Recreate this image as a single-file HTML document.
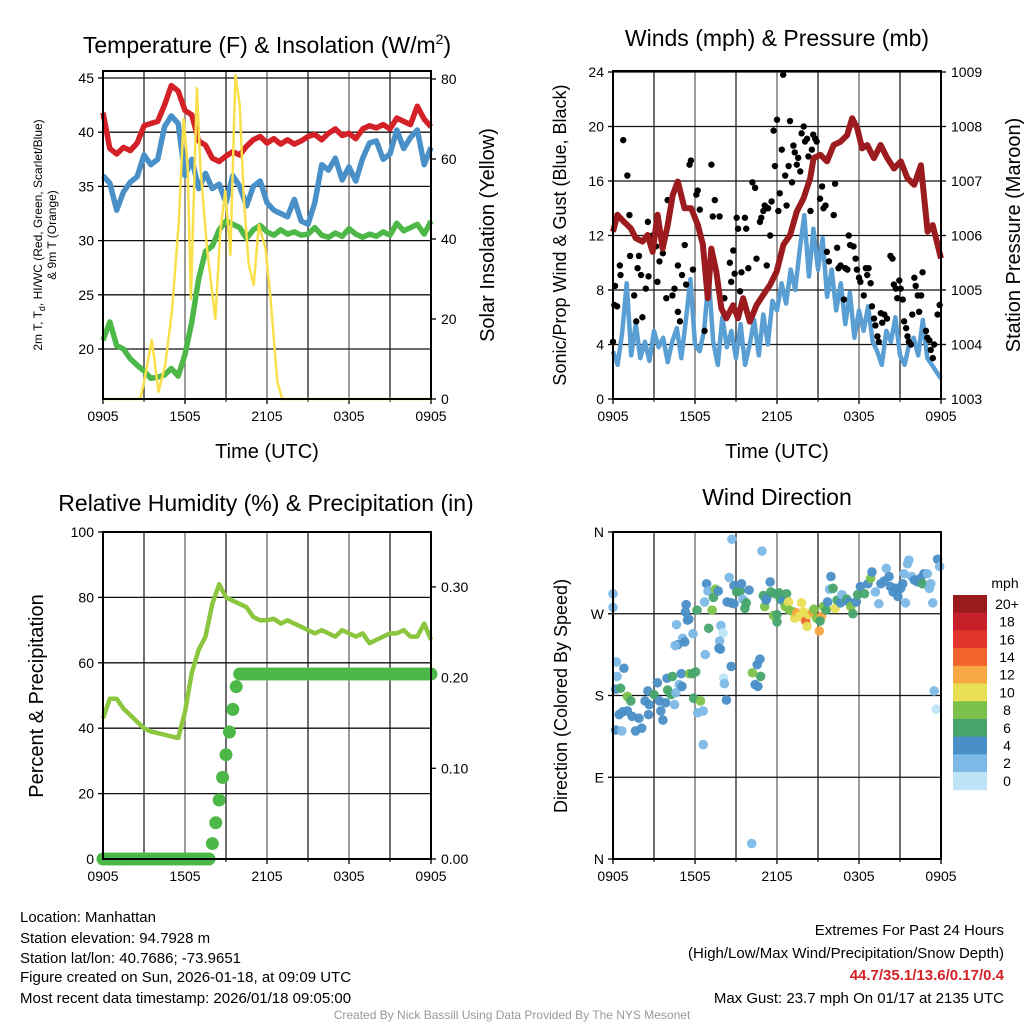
<!DOCTYPE html>
<html><head><meta charset="utf-8"><style>
html,body{margin:0;padding:0;background:#fff;}
svg{display:block;font-family:"Liberation Sans",sans-serif;}
</style></head><body>
<svg id="root" width="1024" height="1024" viewBox="0 0 1024 1024" xmlns="http://www.w3.org/2000/svg">
<rect x="0" y="0" width="1024" height="1024" fill="#fff"/>
<text x="267" y="53" font-size="23" text-anchor="middle">Temperature (F) &amp; Insolation (W/m<tspan font-size="14" dy="-9">2</tspan><tspan dy="9">)</tspan></text>
<text x="777" y="46" font-size="23" text-anchor="middle">Winds (mph) &amp; Pressure (mb)</text>
<text x="266" y="511" font-size="23" text-anchor="middle">Relative Humidity (%) &amp; Precipitation (in)</text>
<text x="777" y="505" font-size="23" text-anchor="middle">Wind Direction</text>

<text transform="translate(42,235) rotate(-90)" font-size="12" text-anchor="middle">2m T, T<tspan font-size="9" dy="3">d</tspan><tspan dy="-3">, HI/WC (Red, Green, Scarlet/Blue)</tspan></text>
<text transform="translate(56,235) rotate(-90)" font-size="12" text-anchor="middle">&amp; 9m T (Orange)</text>
<text transform="translate(494,235) rotate(-90)" font-size="20" text-anchor="middle">Solar Insolation (Yellow)</text>
<text x="267" y="458" font-size="20" text-anchor="middle">Time (UTC)</text>
<text transform="translate(566,235) rotate(-90)" font-size="18" text-anchor="middle">Sonic/Prop Wind &amp; Gust (Blue, Black)</text>
<text transform="translate(1020,235) rotate(-90)" font-size="20" text-anchor="middle">Station Pressure (Maroon)</text>
<text x="777" y="458" font-size="20" text-anchor="middle">Time (UTC)</text>
<text transform="translate(43,696) rotate(-90)" font-size="20" text-anchor="middle">Percent &amp; Precipitation</text>
<text transform="translate(567,696) rotate(-90)" font-size="18" text-anchor="middle">Direction (Colored By Speed)</text>

<g font-size="15">
<text x="20" y="922">Location: Manhattan</text>
<text x="20" y="943">Station elevation: 94.7928 m</text>
<text x="20" y="963">Station lat/lon: 40.7686; -73.9651</text>
<text x="20" y="982">Figure created on Sun, 2026-01-18, at 09:09 UTC</text>
<text x="20" y="1003">Most recent data timestamp: 2026/01/18 09:05:00</text>
</g>
<g font-size="15" text-anchor="end">
<text x="1004" y="935">Extremes For Past 24 Hours</text>
<text x="1004" y="958">(High/Low/Max Wind/Precipitation/Snow Depth)</text>
<text x="1004" y="980" fill="#d42027" font-weight="bold">44.7/35.1/13.6/0.17/0.4</text>
<text x="1004" y="1003">Max Gust: 23.7 mph On 01/17 at 2135 UTC</text>
</g>
<text x="512" y="1019" font-size="12" fill="#999" text-anchor="middle">Created By Nick Bassill Using Data Provided By The NYS Mesonet</text>
<g id="charts"></g>
</svg>
<script>
// ---------- data ----------
const timeLabels = ["0905","1505","2105","0305","0905"];
const tempTicks = [20,25,30,35,40,45];
const insTicks = [0,20,40,60,80];
const tempRed = [41.8,38.5,38.0,38.6,38.3,39.0,40.6,40.8,41.0,42.5,44.3,43.8,42.0,41.6,39.2,38.8,37.6,37.3,37.8,38.2,37.9,38.7,39.3,39.6,39.0,39.4,38.9,39.3,38.9,39.2,39.6,39.8,39.3,39.9,40.3,39.7,39.9,39.4,40.3,40.6,40.4,40.7,40.3,41.3,41.0,40.7,42.4,41.2,40.5];
const tempBlue = [36.0,35.3,32.8,34.5,35.4,35.9,37.9,37.0,37.5,40.5,41.5,40.8,36.0,37.5,34.8,36.2,34.8,35.2,33.5,36.0,35.0,33.2,35.0,35.5,33.5,32.8,32.5,32.2,33.8,31.8,31.5,33.5,37.0,36.5,37.6,35.6,36.8,35.5,37.6,39.0,39.2,37.5,38.0,40.2,38.5,39.5,40.2,37.0,38.6];
const tempGreen = [20.8,22.5,20.3,20.0,19.1,18.5,18.0,17.3,17.4,17.6,18.2,17.5,19.5,22.5,26.5,29.0,29.5,31.0,31.8,31.5,31.2,30.2,31.0,31.4,30.8,30.5,31.0,30.6,30.8,30.5,30.6,31.2,30.5,30.3,30.7,30.4,31.1,30.6,30.3,30.6,30.4,30.8,30.5,31.6,30.9,31.2,31.5,30.6,31.8];
const insHours = [0,2.72,2.96,3.57,4.06,4.55,5.04,5.53,5.90,6.19,6.43,6.87,7.12,7.61,8.22,8.59,8.95,9.32,9.69,10.0,10.3,10.67,11.03,11.4,11.89,12.26,12.75,13.11,24];
const insValues = [0,0,3.5,14.8,1.8,8.5,21.8,43.5,70,58.5,25,77.7,58.5,37.7,20,42,52,36,81,73.5,50,33.5,28.5,43.5,37.7,25,4.3,0,0];

const mphTicks = [0,4,8,12,16,20,24];
const presTicks = [1003,1004,1005,1006,1007,1008,1009];
const windSpeed = [3.5,2.5,4.8,8.5,3.2,5.5,3.0,4.2,2.8,5.0,3.8,4.5,2.7,4.2,5.2,3.0,5.8,8.8,4.0,3.5,5.0,9.0,4.2,2.5,6.0,3.8,5.0,3.0,5.5,2.5,4.0,5.8,3.2,6.2,4.0,7.2,6.5,8.5,7.0,9.5,8.0,11.0,13.5,9.0,12.5,9.5,11.8,7.5,9.5,6.5,8.5,5.5,7.8,4.5,6.5,5.0,6.8,4.2,3.5,2.5,5.0,4.2,6.0,3.2,2.5,4.0,4.5,3.2,5.8,3.0,2.5,2.0,1.5];
const presHours = [0,0.32,0.81,1.30,1.67,2.16,2.53,2.90,3.26,3.63,4.0,4.37,4.74,5.23,5.72,6.21,6.58,6.94,7.19,7.56,7.93,8.29,8.79,9.15,9.52,10.01,10.50,10.99,11.48,11.98,12.47,12.96,13.45,13.94,14.43,14.68,15.17,15.66,16.15,16.64,17.13,17.50,17.87,18.23,18.60,19.09,19.58,20.07,20.56,21.06,21.55,22.04,22.53,23.02,23.39,24];
const presValues = [1006.07,1006.38,1006.25,1006.13,1005.95,1005.89,1006.01,1005.70,1006.38,1005.76,1006.19,1006.74,1006.99,1006.50,1006.50,1006.19,1005.83,1004.85,1005.76,1005.34,1004.66,1004.48,1004.72,1004.48,1004.85,1004.42,1004.72,1004.91,1005.09,1005.34,1005.83,1006.01,1006.44,1006.68,1007.05,1007.42,1007.48,1007.36,1007.66,1007.72,1007.84,1008.15,1007.97,1007.60,1007.66,1007.42,1007.66,1007.42,1007.23,1007.36,1007.05,1006.93,1007.29,1006.07,1006.19,1005.58];
const gustHours = [0.0,0.1,0.15,0.3,0.5,0.55,0.75,1.05,1.2,1.25,1.55,1.7,1.8,1.9,2.05,2.15,2.4,2.55,2.6,2.9,3.15,3.25,3.4,3.65,3.9,4.0,4.35,4.5,4.75,4.75,4.9,5.05,5.25,5.35,5.6,5.7,5.85,6.1,6.2,6.35,6.7,7.2,7.3,7.45,7.8,8.15,8.55,8.65,8.8,8.9,9.05,9.15,9.3,9.4,9.65,9.75,9.9,10.2,10.4,10.5,10.75,10.85,11.0,11.1,11.25,11.35,11.5,11.6,11.75,11.85,12.0,12.1,12.2,12.35,12.45,12.6,12.7,12.85,12.95,13.1,13.2,13.3,13.45,13.55,13.7,13.8,13.95,14.05,14.2,14.3,14.45,14.55,14.65,14.8,14.9,15.15,15.3,15.4,15.55,15.65,15.8,16.15,16.25,16.4,16.5,16.65,16.9,17.0,17.15,17.25,17.35,17.6,17.75,17.85,18.0,18.1,18.35,18.5,18.6,18.7,18.85,18.95,19.1,19.2,19.35,19.45,19.6,19.7,19.85,20.05,20.3,20.45,20.55,20.7,20.8,20.95,21.05,21.2,21.3,21.45,21.55,21.65,21.8,21.9,22.05,22.15,22.3,22.4,22.55,22.65,22.9,23.0,23.15,23.25,23.4,23.5,23.75,23.9];
const gustMph = [4.2,6.9,8.3,6.8,9.8,9.1,19.0,16.4,13.5,10.5,7.6,5.7,9.6,10.5,9.1,6.0,8.1,13.0,9.0,12.0,11.2,8.6,10.1,10.7,7.4,14.6,7.6,8.1,9.8,6.4,5.7,9.1,11.3,8.4,17.2,17.5,9.5,15.0,15.3,13.9,5.0,17.2,13.4,14.6,13.4,7.4,10.0,8.6,10.9,9.2,13.3,12.5,7.9,9.3,13.3,12.5,9.6,15.9,15.5,10.3,13.0,13.3,13.8,14.2,9.8,14.0,12.0,14.5,19.7,17.1,20.5,13.8,15.1,18.3,23.8,16.4,14.2,17.1,20.4,15.9,18.6,18.1,17.2,17.7,16.7,19.5,20.0,18.9,19.1,17.8,13.8,18.3,19.4,19.1,18.9,14.7,15.6,14.0,14.2,10.8,10.1,13.5,15.8,11.1,9.6,9.8,7.3,9.6,9.5,12.0,11.3,11.2,10.3,9.5,8.9,8.6,7.6,9.6,9.1,9.6,8.5,6.8,5.9,5.4,4.6,4.2,6.3,5.6,6.2,5.9,10.5,10.3,8.4,8.1,7.4,8.7,8.1,7.3,5.7,5.2,4.6,4.2,4.0,6.2,8.9,8.3,7.6,6.4,7.6,9.3,5.0,4.5,4.3,3.6,3.0,4.0,6.2,6.9];

const rhTicks = [0,20,40,60,80,100];
const prTicks = ["0.00","0.10","0.20","0.30"];
const rhValues = [43,49,49,46,44,42,40,39,38.5,38,37.5,37,45,57,64,68,78,84,80,79,78,77,74,73,73,73.5,72,73,72,71,70,69,70,69,68,70,69,68,69,66,67,68,69,69,70,68,68,72,67];
const precipValues = [0,0,0,0,0,0,0,0,0,0,0,0,0,0,0,0,0,0,0,0,0,0,0,0,0,0,0,0,0,0,0,0,0.017,0.04,0.065,0.09,0.115,0.14,0.165,0.19,0.204,0.204,0.204,0.204,0.204,0.204,0.204,0.204,0.204,0.204,0.204,0.204,0.204,0.204,0.204,0.204,0.204,0.204,0.204,0.204,0.204,0.204,0.204,0.204,0.204,0.204,0.204,0.204,0.204,0.204,0.204,0.204,0.204,0.204,0.204,0.204,0.204,0.204,0.204,0.204,0.204,0.204,0.204,0.204,0.204,0.204,0.204,0.204,0.204,0.204,0.204,0.204,0.204,0.204,0.204,0.204,0.204];

const dirLabels = ["N","E","S","W","N"];
const dirTicks = [0,90,180,270,360];
const speedLabels = ["0","2","4","6","8","10","12","14","16","18","20+"];
const speedColors = ["#bde4f7","#7cb9e6","#4a8fc7","#47a56b","#7cc24a","#e8df55","#f7a843","#f0632b","#e0362b","#c5202a","#991b1e"];
const dirHours = [0.0,0.0,0.25,0.3,0.8,0.2,0.55,1.05,1.3,0.45,0.7,1.05,1.4,1.9,0.2,0.65,1.65,2.1,2.35,2.65,2.55,2.6,3.0,3.25,3.4,3.5,3.65,3.85,3.95,4.0,4.25,4.35,4.5,4.6,4.85,5.0,5.05,5.6,5.8,6.05,5.9,6.4,6.2,6.6,6.6,5.35,5.3,5.45,5.55,4.65,5.1,5.25,4.75,4.55,5.85,6.15,7.0,6.75,6.7,6.85,6.95,7.35,7.5,7.7,7.25,7.9,8.05,7.8,7.75,7.85,8.5,8.35,8.65,8.85,8.85,9.05,9.3,9.4,9.5,9.65,9.75,9.95,8.65,8.1,8.15,8.3,8.7,10.9,10.75,10.55,10.2,10.8,10.4,10.6,10.15,11.0,11.25,11.5,11.1,11.2,11.55,11.75,12.0,12.0,11.85,12.15,12.25,12.45,12.7,12.6,12.85,12.9,13.2,13.3,13.45,13.65,13.8,13.95,14.1,14.2,14.3,14.6,14.7,14.9,15.1,15.25,15.15,15.4,15.6,15.7,15.95,15.85,16.1,16.25,16.4,16.65,16.75,17.1,17.25,17.4,17.55,17.8,17.9,18.1,18.4,18.65,18.85,18.95,19.2,19.45,19.6,19.85,20.0,20.2,20.3,20.5,20.7,20.85,21.05,21.2,21.4,21.3,21.55,21.65,21.85,22.05,22.3,22.5,22.65,22.75,23.0,23.15,23.25,23.4,23.75,23.9,23.5,23.65];
const dirDegrees = [292,277,217,201,210,187,188,179,174,159,162,163,157,155,142,141,141,144,174,170,185,159,181,194,174,163,153,172,199,186,181,201,170,183,192,204,190,204,204,206,177,174,161,163,126,280,272,263,264,258,243,239,236,235,248,274,254,225,283,303,295,288,297,295,274,257,249,240,232,231,310,283,282,281,301,294,295,303,286,276,282,296,212,199,193,175,352,339,220,214,205,201,192,190,17,290,287,305,278,285,294,268,269,261,292,293,286,284,292,278,283,274,272,265,271,267,282,272,262,256,269,272,275,265,251,267,262,278,274,283,311,297,298,276,285,282,291,286,283,278,270,283,291,300,292,303,309,316,294,281,303,306,320,311,300,294,298,289,298,303,282,314,325,329,311,307,305,309,303,314,314,298,303,282,330,322,185,165];
const dirSpeeds = [2,2,2,2,4,4,6,8,6,4,4,4,4,4,4,2,4,4,4,4,4,4,6,4,4,4,4,4,4,6,6,6,2,2,2,4,4,8,6,6,6,8,2,2,2,4,4,4,4,2,2,4,4,2,2,6,6,2,2,4,2,6,8,4,8,2,0.5,2,4,4,2,4,4,4,4,6,6,4,2,6,6,4,4,0.5,2,4,2,2,4,4,8,6,4,4,2,6,4,4,8,4,6,8,6,6,6,6,6,4,6,8,10,8,8,10,12,10,10,10,14,10,10,12,8,8,12,12,6,8,6,4,4,2,6,10,6,4,2,6,4,8,6,4,6,4,6,4,8,4,2,2,4,4,2,4,4,4,4,4,4,4,2,2,2,2,2,4,4,4,6,4,2,2,2,2,4,2,2,0.5];

// ---------- helpers ----------
const NS = "http://www.w3.org/2000/svg";
const root = document.getElementById("charts");
function mk(tag, attrs, parent) {
  const e = document.createElementNS(NS, tag);
  for (const k in attrs) e.setAttribute(k, attrs[k]);
  (parent || root).appendChild(e);
  return e;
}
function txt(s, x, y, size, anchor, parent) {
  const t = mk("text", {x: x, y: y, "font-size": size, "text-anchor": anchor}, parent);
  t.textContent = s;
  return t;
}
function poly(pts) { return pts.map(p => p[0].toFixed(1) + "," + p[1].toFixed(1)).join(" "); }

function panel(name, x0, x1, y0, y1) {
  const g = mk("g", {});
  
  
  const xH = h => x0 + h * (x1 - x0) / 24;
  for (let h = 3; h < 24; h += 3) {
    const l = mk("line", {x1: xH(h), x2: xH(h), y1: y0, y2: y1, stroke: (h % 6 === 0) ? "#666" : "#222", "stroke-width": 1.3}, g);
    
    
  }
  for (let i = 0; i < timeLabels.length; i++) {
    const h = i * 6;
    mk("line", {x1: xH(h), x2: xH(h), y1: y1, y2: y1 + 5, stroke: "#000", "stroke-width": 1.3}, g);
    const t = txt(timeLabels[i], xH(h), y1 + 22, 14, "middle", g);
    
    
  }
  for (let h = 3; h < 24; h += 6) mk("line", {x1: xH(h), x2: xH(h), y1: y1, y2: y1 + 3, stroke: "#000"}, g);
  return {g: g, xH: xH};
}
function frame(g, x0, x1, y0, y1) {
  const r = mk("rect", {x: x0, y: y0, width: x1 - x0, height: y1 - y0, fill: "none", stroke: "#000", "stroke-width": 2}, g);
  
  
}
function hgrid(g, x0, x1, y, name) {
  const l = mk("line", {x1: x0, x2: x1, y1: y, y2: y, stroke: "#111", "stroke-width": 1.3}, g);
  
  
}
function leftTick(g, x0, y, label, name) {
  mk("line", {x1: x0 - 5, x2: x0, y1: y, y2: y, stroke: "#000", "stroke-width": 1.3}, g);
  const t = txt(label, x0 - 9, y + 5, 14, "end", g);
  
  
}
function rightTick(g, x1, y, label, name) {
  mk("line", {x1: x1, x2: x1 + 5, y1: y, y2: y, stroke: "#000", "stroke-width": 1.3}, g);
  const t = txt(label, x1 + 10, y + 5, 14, "start", g);
  
  
}

// ---------- Panel 1: temperature ----------
(function () {
  const X0 = 103, X1 = 431, Y0 = 71, Y1 = 399;
  const p = panel("temperature-panel", X0, X1, Y0, Y1);
  const g = p.g, xH = p.xH;
  const tY = v => 349 - (v - 20) * 10.84;
  const iY = v => 399 - v * 4;
  tempTicks.forEach(v => { hgrid(g, X0, X1, tY(v), 'temp-gridline'); leftTick(g, X0, tY(v), String(v), 'temp-y-tick-label'); });
  insTicks.forEach(v => rightTick(g, X1, iY(v), String(v), 'insolation-y-tick-label'));
  const n = tempRed.length;
  const series = [[tempGreen, "#4db848", 'dewpoint-line'], [tempBlue, "#4a90c8", 'windchill-line'], [tempRed, "#d42027", 'temperature-line']];
  series.forEach(s => {
    const pl = mk("polyline", {points: poly(s[0].map((v, i) => [xH(i * 24 / (n - 1)), tY(v)])), fill: "none", stroke: s[1], "stroke-width": 5.5, "stroke-linejoin": "round"}, g);
    
    
  });
  const ins = mk("polyline", {points: poly(insValues.map((v, i) => [xH(insHours[i]), iY(v)])), fill: "none", stroke: "#f9e04b", "stroke-width": 2.5, "stroke-linejoin": "round"}, g);
  
  
  frame(g, X0, X1, Y0, Y1);
})();

// ---------- Panel 2: winds & pressure ----------
(function () {
  const X0 = 613, X1 = 941, Y0 = 71, Y1 = 399;
  const p = panel("wind-panel", X0, X1, Y0, Y1);
  const g = p.g, xH = p.xH;
  const mY = v => 399 - v * 13.625;
  const pY = v => 399 - (v - 1003) * 54.5;
  mphTicks.forEach(v => { hgrid(g, X0, X1, mY(v), 'wind-gridline'); leftTick(g, X0, mY(v), String(v), 'wind-y-tick-label'); });
  presTicks.forEach(v => rightTick(g, X1, pY(v), String(v), 'pressure-y-tick-label'));
  const n = windSpeed.length;
  const wl = mk("polyline", {points: poly(windSpeed.map((v, i) => [xH(i * 24 / (n - 1)), mY(v)])), fill: "none", stroke: "#5a9fd4", "stroke-width": 4.5, "stroke-linejoin": "round"}, g);
  
  
  gustMph.forEach((v, i) => {
    const c = mk("circle", {cx: xH(gustHours[i]), cy: mY(v), r: 3.2, fill: "#000"}, g);
    
    
  });
  const pl = mk("polyline", {points: poly(presValues.map((v, i) => [xH(presHours[i]), pY(v)])), fill: "none", stroke: "#9b1b1e", "stroke-width": 6, "stroke-linejoin": "round"}, g);
  
  
  frame(g, X0, X1, Y0, Y1);
})();

// ---------- Panel 3: RH & precip ----------
(function () {
  const X0 = 103, X1 = 431, Y0 = 532, Y1 = 859;
  const p = panel("humidity-panel", X0, X1, Y0, Y1);
  const g = p.g, xH = p.xH;
  const rY = v => 859 - v * 3.27;
  const prY = v => 859 - v * 907;
  rhTicks.forEach(v => { if (v > 0 && v < 100) hgrid(g, X0, X1, rY(v), 'rh-gridline'); leftTick(g, X0, rY(v), String(v), 'rh-y-tick-label'); });
  prTicks.forEach(s => rightTick(g, X1, prY(parseFloat(s)), s, 'precip-y-tick-label'));
  const n = rhValues.length;
  const rl = mk("polyline", {points: poly(rhValues.map((v, i) => [xH(i * 24 / (n - 1)), rY(v)])), fill: "none", stroke: "#8cc63f", "stroke-width": 4.5, "stroke-linejoin": "round"}, g);
  
  
  const m = precipValues.length;
  precipValues.forEach((v, i) => {
    const c = mk("circle", {cx: xH(i * 24 / (m - 1)), cy: prY(v), r: 6.5, fill: "#4db848"}, g);
    
    
  });
  frame(g, X0, X1, Y0, Y1);
})();

// ---------- Panel 4: wind direction ----------
(function () {
  const X0 = 613, X1 = 941, Y0 = 532, Y1 = 859;
  const p = panel("winddir-panel", X0, X1, Y0, Y1);
  const g = p.g, xH = p.xH;
  const dY = d => 859 - d * (327 / 360);
  dirTicks.forEach((d, i) => {
    if (d > 0 && d < 360) hgrid(g, X0, X1, dY(d), 'dir-gridline');
    leftTick(g, X0, dY(d), dirLabels[i], 'dir-y-tick-label');
  });
  dirDegrees.forEach((d, i) => {
    const idx = Math.min(10, Math.round(dirSpeeds[i] / 2));
    const c = mk("circle", {cx: xH(dirHours[i]), cy: dY(d), r: 4.8, fill: speedColors[idx], "fill-opacity": 0.95}, g);
    
    
  });
  frame(g, X0, X1, Y0, Y1);
  const cb = mk("g", {});
  
  
  const top = 595, bh = 17.7;
  const t0 = txt("mph", 1005, 588, 14, "middle", cb);
  
  
  for (let k = 0; k < 11; k++) {
    const j = 10 - k;
    const r = mk("rect", {x: 953, y: top + k * bh, width: 34, height: bh + 0.5, fill: speedColors[j]}, cb);
    
    
    const t = txt(speedLabels[j], 1007, top + k * bh + bh / 2 + 5, 14, "middle", cb);
    
    
  }
})();
</script>
</body></html>
